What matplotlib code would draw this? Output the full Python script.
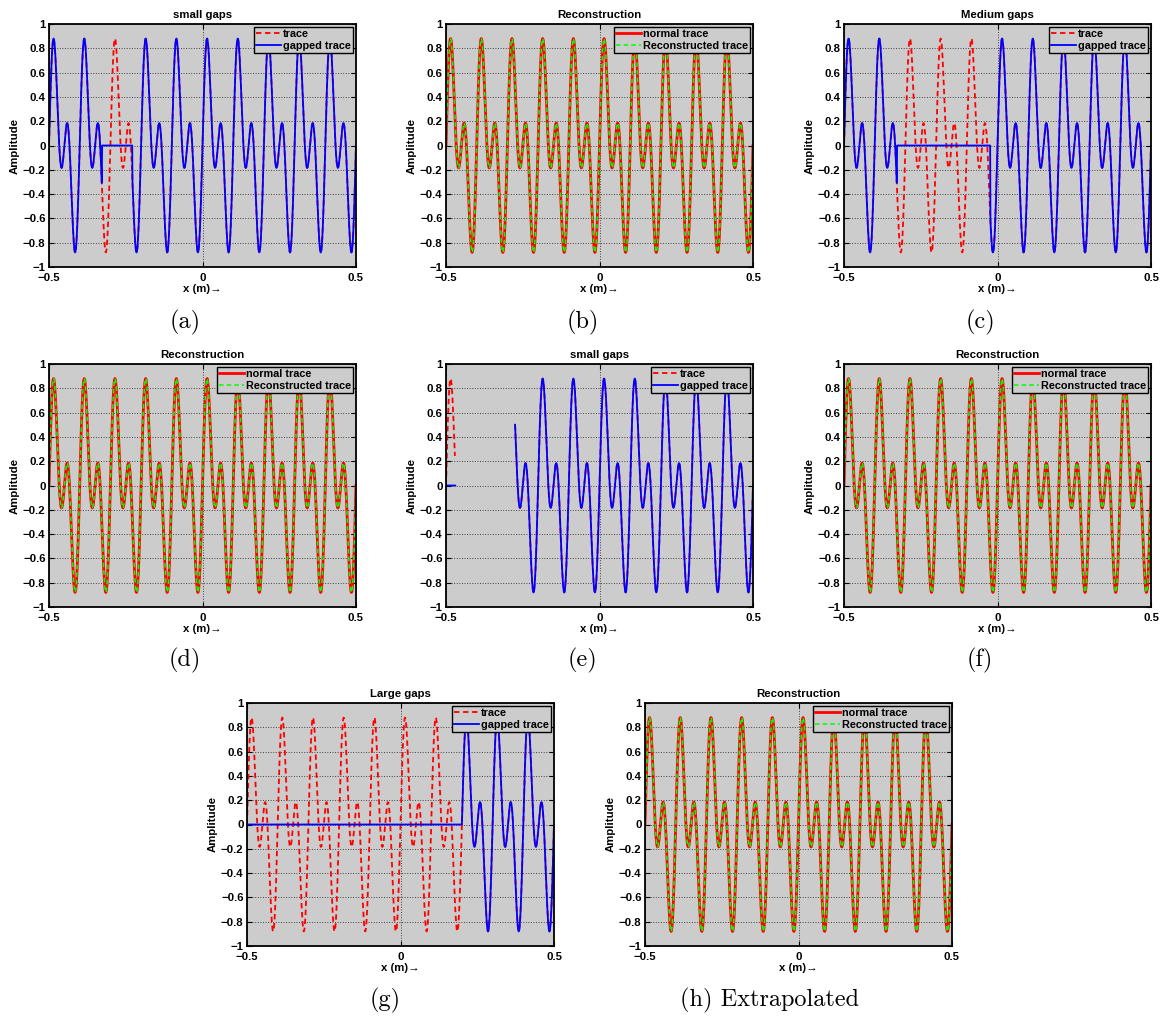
import numpy as np
import matplotlib.pyplot as plt

plt.rcParams['font.family'] = ['Liberation Sans', 'DejaVu Sans']
plt.rcParams['font.weight'] = 'bold'
plt.rcParams['axes.labelweight'] = 'bold'
plt.rcParams['axes.titleweight'] = 'bold'
plt.rcParams['font.size'] = 8.2
plt.rcParams['axes.linewidth'] = 1.3

# trace definition: two sinusoids, 10 and 20 cycles per metre
x_range = [-0.5, 0.5]
n_samples = 1001
wave_freqs = [10, 20]
wave_amps = [0.5, 0.5]

# gap windows (m)
gap_small = [-0.327, -0.228]      # (a)
gap_medium = [-0.327, -0.023]     # (c)
gap_large = [-0.5, 0.2]           # (g)
e_head = [-0.5, -0.4705]          # (e) trace shown, gapped trace zero
e_missing = [-0.4705, -0.275]     # (e) nothing drawn

titles = ["small gaps", "Reconstruction", "Medium gaps",
          "Reconstruction", "small gaps", "Reconstruction",
          "Large gaps", "Reconstruction"]
captions = ["(a)", "(b)", "(c)", "(d)", "(e)", "(f)", "(g)", "(h) Extrapolated"]
y_ticks = [-1, -0.8, -0.6, -0.4, -0.2, 0, 0.2, 0.4, 0.6, 0.8, 1]
y_tick_labels = ['\u22121', '\u22120.8', '\u22120.6', '\u22120.4', '\u22120.2',
                 '0', '0.2', '0.4', '0.6', '0.8', '1']
x_ticks = [-0.5, 0, 0.5]
x_tick_labels = ['\u22120.5', '0', '0.5']

x = np.linspace(x_range[0], x_range[1], n_samples)
trace = np.zeros_like(x)
for f, a in zip(wave_freqs, wave_amps):
    trace += a * np.sin(2 * np.pi * f * x)


def zero_gap(y, gap):
    out = y.copy()
    out[(x >= gap[0]) & (x <= gap[1])] = 0
    return out


gapped_a = zero_gap(trace, gap_small)
gapped_c = zero_gap(trace, gap_medium)
gapped_g = zero_gap(trace, gap_large)

trace_e = trace.copy()
trace_e[(x > e_missing[0]) & (x < e_missing[1])] = np.nan
gapped_e = trace.copy()
gapped_e[(x >= e_head[0]) & (x <= -0.47)] = 0
gapped_e[(x > -0.47) & (x < e_missing[1])] = np.nan

W, H = 1168, 1017
fig = plt.figure(figsize=(W / 100, H / 100), dpi=100)

# axes boxes in pixels: left, right, top, bottom
boxes = [(49, 356, 24, 267), (446, 753, 24, 267), (844, 1151, 24, 267),
         (49, 356, 364, 607), (446, 753, 364, 607), (844, 1151, 364, 607),
         (247, 554, 703, 946), (645, 952, 703, 946)]
cap_pos = [(185, 322), (583, 322), (980, 322),
           (185, 660), (583, 660), (980, 660),
           (385, 1000), (769, 1000)]


def make_axes(box):
    l, r, t, b = box
    ax = fig.add_axes([l / W, 1 - b / H, (r - l) / W, (b - t) / H])
    ax.set_facecolor('#cccccc')
    ax.set_xlim(x_range)
    ax.set_ylim(-1, 1)
    ax.set_xticks(x_ticks)
    ax.set_xticklabels(x_tick_labels)
    ax.set_yticks(y_ticks)
    ax.set_yticklabels(y_tick_labels)
    ax.tick_params(direction='in', top=True, right=True, length=3.5, width=0.8)
    ax.tick_params(axis='y', pad=2.5)
    ax.tick_params(axis='x', pad=4.5)
    ax.grid(True, linestyle=':', color='#444444', linewidth=0.7)
    ax.set_axisbelow(True)
    ax.set_xlabel('x (m)\u2192', labelpad=0.5)
    ax.set_ylabel('Amplitude', labelpad=2)
    return ax


def legend(ax, labels):
    leg = ax.legend(labels, loc='upper right', fancybox=False, framealpha=1,
                    facecolor='#cccccc', edgecolor='black', borderpad=0.2,
                    labelspacing=0.15, handlelength=2.3, handletextpad=0.2,
                    borderaxespad=0.25, prop={'weight': 'bold', 'size': 7.8})
    leg.get_frame().set_linewidth(1.0)


gap_panels = {0: gapped_a, 2: gapped_c, 4: gapped_e, 6: gapped_g}

for i, box in enumerate(boxes):
    ax = make_axes(box)
    ax.set_title(titles[i], fontsize=8.2, pad=4.5)
    if i in gap_panels:
        tr = trace_e if i == 4 else trace
        ax.plot(x, tr, color='#ff0000', linestyle='--', dashes=(3, 2), linewidth=1.3)
        ax.plot(x, gap_panels[i], color='#0000ff', linewidth=1.3)
        legend(ax, ['trace', 'gapped trace'])
    else:
        ax.plot(x, trace, color='#ff0000', linewidth=2.0)
        ax.plot(x, trace, color='#00ff00', linestyle='--', dashes=(3, 2), linewidth=1.1)
        legend(ax, ['normal trace', 'Reconstructed trace'])
    cx, cy = cap_pos[i]
    fig.text(cx / W, 1 - cy / H, captions[i], family='cmr10', fontweight='normal',
             fontsize=17.5, ha='center', va='center')

fig.savefig('out.png', dpi=100)
